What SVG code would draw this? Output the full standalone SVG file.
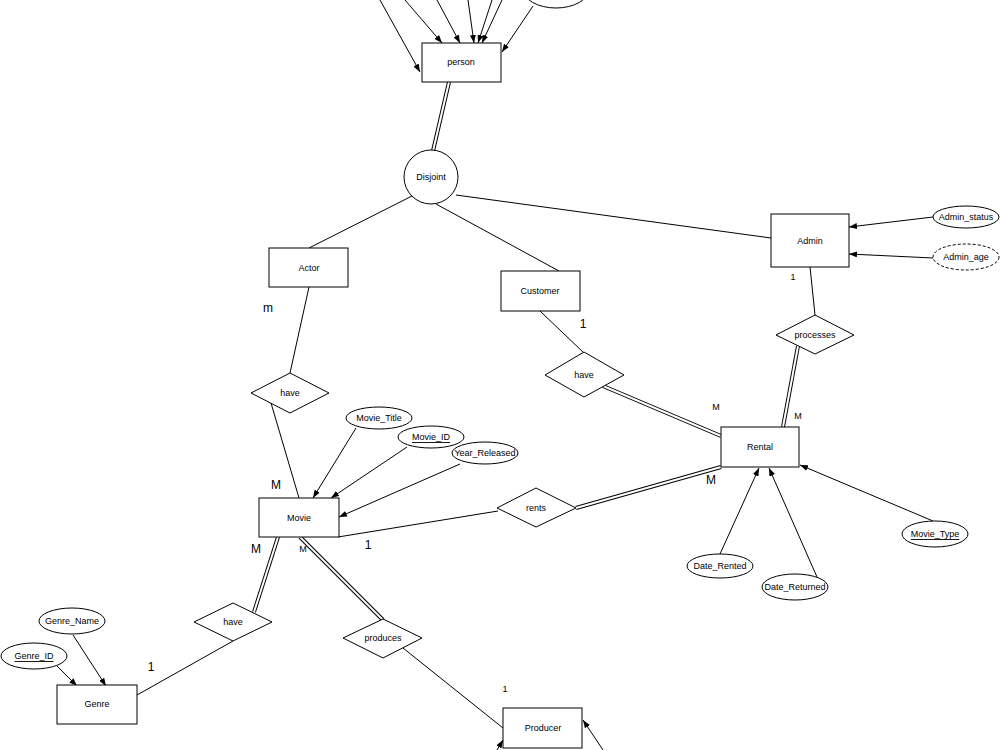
<svg xmlns="http://www.w3.org/2000/svg" width="1000" height="750" viewBox="0 0 1000 750">
<defs>
<marker id="arr" viewBox="0 0 8 6" refX="8" refY="3" markerWidth="8" markerHeight="6" markerUnits="userSpaceOnUse" orient="auto">
<path d="M0,0 L8,3 L0,6 z" fill="#000"/>
</marker>
</defs>
<style>
.ent{fill:#fff;stroke:#000;stroke-width:1}
.rel{fill:#fff;stroke:#000;stroke-width:1}
.att{fill:#fff;stroke:#000;stroke-width:1}
.dash{stroke-dasharray:3,2}
.ln{stroke:#000;stroke-width:1;fill:none}
.ar{stroke:#000;stroke-width:1;fill:none;marker-end:url(#arr)}
.dbo{stroke:#000;stroke-width:4;fill:none}
.dbi{stroke:#fff;stroke-width:2;fill:none}
text{font-family:"Liberation Sans",Arial,sans-serif;font-size:9px;fill:#000;text-anchor:middle;dominant-baseline:central}
.big{font-size:12px}
.u{text-decoration:underline}
</style>
<rect width="1000" height="750" fill="#fff"/>
<g id="connectors">
<line class="ar" x1="380" y1="0" x2="420" y2="72"/>
<line class="ar" x1="405" y1="0" x2="442" y2="43"/>
<line class="ar" x1="437" y1="0" x2="460" y2="43"/>
<line class="ar" x1="468" y1="0" x2="474" y2="43"/>
<line class="ar" x1="492" y1="0" x2="478" y2="43"/>
<line class="ar" x1="502" y1="0" x2="482" y2="43"/>
<line class="ar" x1="533" y1="6" x2="502" y2="52"/>
<line class="dbo" x1="449" y1="82" x2="433" y2="151"/>
<line class="dbi" x1="449" y1="82" x2="433" y2="151"/>
<line class="ln" x1="412" y1="196" x2="309" y2="248"/>
<line class="ln" x1="436" y1="204" x2="559" y2="271"/>
<line class="ln" x1="456" y1="195" x2="771" y2="238"/>
<line class="ar" x1="933" y1="217" x2="849" y2="227"/>
<line class="ar" x1="933" y1="258" x2="849" y2="254"/>
<line class="ln" x1="810" y1="267" x2="815" y2="315"/>
<line class="dbo" x1="798" y1="346" x2="783" y2="427"/>
<line class="dbi" x1="798" y1="346" x2="783" y2="427"/>
<line class="ln" x1="540" y1="311" x2="584" y2="353"/>
<line class="dbo" x1="603" y1="386" x2="721" y2="436"/>
<line class="dbi" x1="603" y1="386" x2="721" y2="436"/>
<line class="dbo" x1="576" y1="508" x2="721" y2="467"/>
<line class="dbi" x1="576" y1="508" x2="721" y2="467"/>
<line class="ln" x1="338" y1="537" x2="498" y2="511"/>
<line class="ar" x1="720" y1="554" x2="759" y2="468"/>
<line class="ar" x1="817" y1="577" x2="769" y2="468"/>
<line class="ar" x1="933" y1="521" x2="800" y2="465"/>
<line class="ln" x1="309" y1="287" x2="290" y2="373"/>
<line class="ln" x1="271" y1="403" x2="299" y2="498"/>
<line class="ar" x1="356" y1="428" x2="313" y2="498"/>
<line class="ar" x1="407" y1="447" x2="331" y2="498"/>
<line class="ar" x1="460" y1="464" x2="339" y2="517"/>
<line class="dbo" x1="278" y1="537" x2="254" y2="612"/>
<line class="dbi" x1="278" y1="537" x2="254" y2="612"/>
<line class="ln" x1="137" y1="695" x2="233" y2="641"/>
<line class="ar" x1="73" y1="635" x2="106" y2="686"/>
<line class="ar" x1="57" y1="666" x2="77" y2="686"/>
<line class="dbo" x1="300" y1="537" x2="383" y2="620"/>
<line class="dbi" x1="300" y1="537" x2="383" y2="620"/>
<line class="ln" x1="403" y1="648" x2="503" y2="728"/>
<line class="ar" x1="497" y1="750" x2="503" y2="740"/>
<line class="ar" x1="603" y1="750" x2="583" y2="720"/>
</g>
<g id="top-attr"><ellipse class="att" cx="556" cy="-11" rx="33" ry="19"/></g>
<g id="person"><rect class="ent" x="422" y="43" width="79" height="39"/><text x="461" y="62">person</text></g>
<g id="disjoint"><circle class="ent" cx="431" cy="177" r="27"/><text x="431" y="177">Disjoint</text></g>
<g id="actor"><rect class="ent" x="269" y="248" width="79" height="39"/><text x="309" y="268">Actor</text></g>
<g id="customer"><rect class="ent" x="501" y="271" width="79" height="40"/><text x="540" y="291">Customer</text></g>
<g id="admin"><rect class="ent" x="771" y="214" width="78" height="53"/><text x="810" y="241">Admin</text></g>
<g id="admin_status"><ellipse class="att" cx="966" cy="217" rx="33" ry="11"/><text x="966" y="217">Admin_status</text></g>
<g id="admin_age"><ellipse class="att dash" cx="966" cy="257" rx="33" ry="13"/><text x="966" y="257">Admin_age</text></g>
<g id="processes"><polygon class="rel" points="815,315 854,335 815,354 776,335"/><text x="815" y="335">processes</text></g>
<g id="have_customer"><polygon class="rel" points="584,352 624,375 584,397 545,375"/><text x="584" y="375">have</text></g>
<g id="rental"><rect class="ent" x="721" y="427" width="78" height="40"/><text x="760" y="447">Rental</text></g>
<g id="rents"><polygon class="rel" points="536,488 576,508 536,527 497,508"/><text x="536" y="508">rents</text></g>
<g id="date_rented"><ellipse class="att" cx="720" cy="566" rx="33" ry="12"/><text x="720" y="566">Date_Rented</text></g>
<g id="date_returned"><ellipse class="att" cx="795" cy="587" rx="33" ry="13"/><text x="795" y="587">Date_Returned</text></g>
<g id="movie_type"><ellipse class="att" cx="935" cy="534" rx="33" ry="13"/><text class="u" x="935" y="534">Movie_Type</text></g>
<g id="have_actor"><polygon class="rel" points="290,373 329,393 290,413 251,393"/><text x="290" y="393">have</text></g>
<g id="movie"><rect class="ent" x="259" y="498" width="80" height="39"/><text x="299" y="518">Movie</text></g>
<g id="movie_title"><ellipse class="att" cx="379" cy="418" rx="33" ry="11"/><text x="379" y="418">Movie_Title</text></g>
<g id="movie_id"><ellipse class="att" cx="431" cy="437" rx="33" ry="11"/><text class="u" x="431" y="437">Movie_ID</text></g>
<g id="year_released"><ellipse class="att" cx="485" cy="453" rx="33" ry="11"/><text x="485" y="453">Year_Released</text></g>
<g id="have_genre"><polygon class="rel" points="233,603 272,622 233,641 194,622"/><text x="233" y="622">have</text></g>
<g id="genre"><rect class="ent" x="57" y="685" width="80" height="39"/><text x="97" y="704">Genre</text></g>
<g id="genre_name"><ellipse class="att" cx="72" cy="621" rx="33" ry="13"/><text x="72" y="621">Genre_Name</text></g>
<g id="genre_id"><ellipse class="att" cx="34" cy="656" rx="33" ry="13"/><text class="u" x="34" y="656">Genre_ID</text></g>
<g id="produces"><polygon class="rel" points="383,619 422,638 383,658 343,638"/><text x="383" y="638">produces</text></g>
<g id="producer"><rect class="ent" x="503" y="708" width="79" height="40"/><text x="543" y="728">Producer</text></g>
<g id="labels">
<text x="793" y="277">1</text>
<text x="798" y="416">M</text>
<text x="716" y="407">M</text>
<text class="big" x="711" y="480">M</text>
<text class="big" x="583" y="324">1</text>
<text class="big" x="368" y="545">1</text>
<text class="big" x="268" y="308">m</text>
<text class="big" x="276" y="485">M</text>
<text class="big" x="256" y="549">M</text>
<text x="303" y="549">M</text>
<text class="big" x="151" y="667">1</text>
<text x="505" y="689">1</text>
</g>
</svg>
